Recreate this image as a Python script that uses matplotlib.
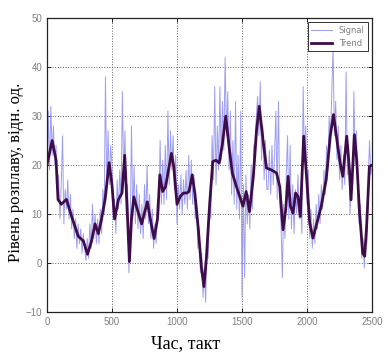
import matplotlib
matplotlib.use("Agg")
import matplotlib.pyplot as plt

# trend line
trend_x = [0, 40, 70, 85, 110, 150, 190, 240, 280, 312, 343, 370, 395, 420, 447, 478, 500, 520, 550, 577,
           598, 616, 634, 650, 668, 694, 728, 772, 798, 824, 850, 868, 890, 912, 957, 975, 1000, 1025, 1050, 1075,
           1092, 1117, 1137, 1162, 1187, 1207, 1225, 1250, 1275, 1300, 1325, 1350, 1375, 1400, 1425, 1457, 1482, 1507, 1532, 1557,
           1587, 1612, 1632, 1662, 1688, 1726, 1765, 1790, 1815, 1836, 1854, 1872, 1892, 1912, 1930, 1948, 1974, 1994, 2020, 2045,
           2076, 2109, 2147, 2178, 2203, 2229, 2254, 2275, 2305, 2326, 2338, 2364, 2382, 2402, 2428, 2443, 2458, 2479, 2500]
trend_y = [20, 25, 21, 13, 12, 13, 9.5, 5.5, 4.5, 1.8, 4.5, 8, 6, 9, 13, 20.5, 16, 9, 13, 14.3,
           22, 11.5, 0.3, 9, 13.5, 11, 8, 12.5, 8.5, 5, 9, 18, 14.6, 15.6, 22.4, 19.7, 12, 13.6, 14.3, 14.3,
           14.6, 18, 14.3, 7.5, -0.7, -4.8, 0.7, 11.6, 20.7, 21, 20.4, 24.5, 30, 23.8, 18.4, 15.6, 13.6, 11.6, 14.6, 10.5,
           17.7, 27.2, 32, 25, 19.4, 19, 18.4, 15.6, 6.8, 10.9, 17.7, 11.6, 10.2, 14.3, 13.6, 9.5, 25.9, 18.4, 8.2, 5.1,
           8.2, 11.6, 17, 25.9, 30.3, 25.2, 20.4, 17.7, 25.9, 19, 12.9, 26.2, 21, 10.9, 2, 1.4, 7.5, 19.7, 20]

# signal, one value every 10 takts
signal_step = 10
signal_y = [
    17, 31, 19, 32, 22, 28, 20, 24, 15, 18,
    9, 16, 26, 8, 15, 11, 17, 9, 14, 7,
    11, 5, 9, 3, 8, 4, 7, 2, 6, 3,
    0.5, 5, 1, 8, 3, 12, 5, 10, 4, 9,
    4, 11, 6, 15, 10, 38, 14, 27, 16, 24,
    20, 9, 13, 6, 17, 11, 19, 12, 35, 17,
    27, 10, 16, -2, 6, 28, 9, 20, 8, 16,
    7, 14, 6, 12, 5, 16, 9, 20, 8, 14,
    5, 11, 3, 8, 4, 13, 10, 25, 12, 21,
    12, 24, 13, 31, 16, 27, 19, 26, 15, 22,
    8, 16, 11, 18, 10, 17, 12, 19, 11, 22,
    13, 21, 12, 18, 9, 13, 3, 7, -2, 2,
    -7, -1, -8, 3, 1, 14, 9, 26, 17, 36,
    16, 28, 19, 36, 21, 33, 23, 42, 26, 35,
    19, 31, 14, 25, 12, 33, 11, 22, 9, 31,
    -7, 16, -3, 18, 8, 14, 7, 20, 11, 24,
    25, 30, 34, 26, 37, 21, 28, 17, 25, 15,
    15, 23, 14, 24, 16, 22, 31, 13, 33, 12,
    8, -3, 12, 5, 18, 26, 9, 24, 7, 16,
    6, 15, 10, 18, 9, 14, 6, 36, 21, 28,
    12, 19, 5, 11, 3, 9, 4, 12, 7, 14,
    8, 16, 11, 19, 14, 24, 19, 30, 24, 35,
    44, 26, 33, 21, 28, 17, 24, 15, 22, 16,
    39, 18, 24, 10, 17, 15, 35, 20, 27, 14,
    8, 12, 1, 5, -1, 6, 4, 16, 25, 18,
    20]
signal_x = [i * signal_step for i in range(len(signal_y))]

x_ticks = [0, 500, 1000, 1500, 2000, 2500]
y_ticks = [-10, 0, 10, 20, 30, 40, 50]

fig = plt.figure(figsize=(3.88, 3.55), dpi=100)
ax = fig.add_axes([0.121, 0.121, 0.838, 0.828])

ax.plot(signal_x, signal_y, color='#8c8cf0', lw=0.7, alpha=0.85, label='Signal')
ax.plot(trend_x, trend_y, color='#3f0c4a', lw=2.0, label='Trend')

ax.set_xlim(0, 2500)
ax.set_ylim(-10, 50)
ax.set_xticks(x_ticks)
ax.set_yticks(y_ticks)
ax.tick_params(direction='in', top=True, right=True, length=3, labelsize=7,
               labelcolor='#808080', width=0.6)
for lab in ax.get_xticklabels() + ax.get_yticklabels():
    lab.set_family('Liberation Sans')
ax.grid(True, linestyle=':', color='#666666', lw=0.7)
for s in ax.spines.values():
    s.set_linewidth(0.9)
    s.set_color('#222222')

ax.set_xlabel('Час, такт', family='Liberation Serif', fontsize=13)
ax.xaxis.set_label_coords(0.425, -0.08)
ax.set_ylabel('Рівень розплаву, відн. од.', family='Liberation Serif', fontsize=12)
ax.yaxis.set_label_coords(-0.07, 0.476)

leg = ax.legend(loc='upper right', fontsize=6, fancybox=False, framealpha=1,
                edgecolor='#333333', handlelength=2.5, borderpad=0.4)
leg.get_frame().set_linewidth(0.7)
for t in leg.get_texts():
    t.set_color('#808080')

fig.savefig('out.png', dpi=100)
